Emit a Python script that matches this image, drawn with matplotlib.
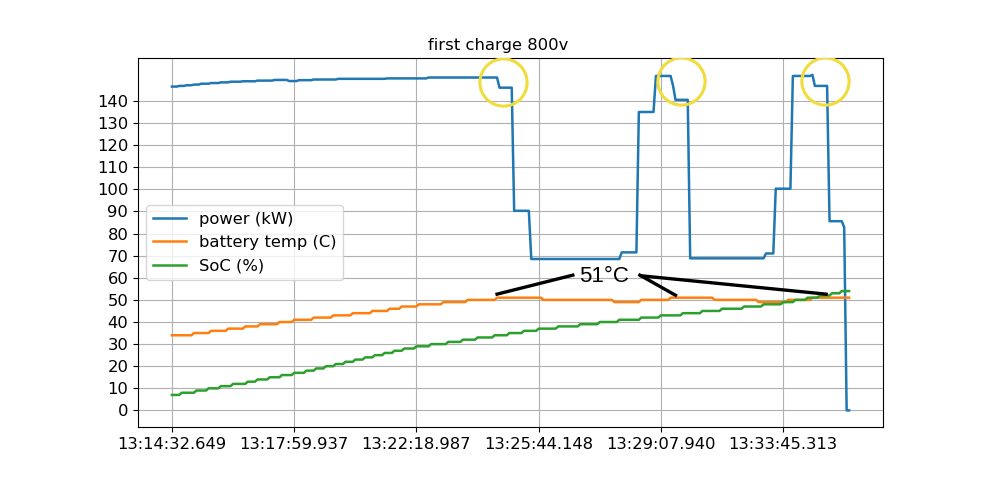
import numpy as np
import matplotlib
matplotlib.use('Agg')
import matplotlib.pyplot as plt

# valores (run-length: valor, numero de muestras)
power_vals = [146.5, 146.8, 147.1, 147.4, 147.8, 148.1, 148.4, 148.7, 148.9, 149.2,
              149.5, 149.0, 149.4, 149.7, 150.0, 150.2, 150.6, 146.0,
              90.3, 68.5, 71.5, 135.0, 151.3, 146.8, 140.5, 68.8, 71.0, 100.3,
              151.3, 151.8, 146.8, 85.6, 82.8, 0.0]
power_runs = [3, 3, 3, 3, 4, 4, 4, 5, 6, 7,
              6, 4, 6, 10, 20, 17, 29, 6,
              7, 37, 7, 7, 7, 1, 6, 31, 4, 7,
              8, 1, 6, 6, 1, 2]

temp_vals = [34, 35, 36, 37, 38, 39, 40, 41, 42, 43, 44, 45, 46, 47, 48, 49, 50,
             51, 50, 49, 50, 51, 50, 49, 50, 51]
temp_runs = [9, 7, 7, 7, 6, 8, 6, 8, 8, 8, 8, 7, 5, 7, 10, 10, 12,
             19, 29, 11, 12, 18, 18, 12, 10, 16]

soc_vals = [7, 8, 9, 10, 11, 12, 13, 14, 15, 16,
            17, 18, 19, 20, 21, 22, 23, 24, 25, 26, 27, 28,
            29, 30, 31, 32, 33, 34, 35, 36,
            37, 38, 39, 40, 41, 42,
            43, 44, 45, 46, 47, 48,
            49, 50, 51, 52, 53, 54]
soc_runs = [4, 6, 5, 5, 5, 6, 4, 5, 5, 5,
            5, 4, 4, 4, 4, 4, 4, 4, 4, 4, 4, 5,
            6, 7, 6, 6, 7, 6, 6, 6,
            8, 9, 8, 8, 9, 8,
            9, 8, 8, 9, 8, 8,
            5, 5, 5, 5, 4, 4]

tick_pos = [0, 50, 100, 150, 200, 250]
tick_labels = ['13:14:32.649', '13:17:59.937', '13:22:18.987',
               '13:25:44.148', '13:29:07.940', '13:33:45.313']

# anotaciones hechas a mano sobre la imagen (indice, valor)
circles_x = [135.3, 208.1, 267.0]
circles_y = [148.5, 148.8, 148.8]
label_pos = (176.6, 60.7)
lines_from = [(164.0, 61.2), (191.4, 61.2), (192.0, 60.9)]
lines_to = [(133.0, 52.6), (206.0, 52.1), (267.6, 52.6)]

power = np.repeat(power_vals, power_runs)
temp = np.repeat(temp_vals, temp_runs)
soc = np.repeat(soc_vals, soc_runs)
idx = np.arange(len(power))

plt.rcParams['font.size'] = 11.8
plt.rcParams['lines.linewidth'] = 1.8

fig = plt.figure(figsize=(9.96, 4.8), dpi=100)
ax = fig.add_subplot(111)
fig.subplots_adjust(left=0.1386, right=0.8865, top=0.879, bottom=0.110)

ax.plot(idx, power, label='power (kW)')
ax.plot(idx, temp, label='battery temp (C)')
ax.plot(idx, soc, label='SoC (%)')

ax.set_title('first charge 800v', fontsize=11.8, x=0.483)
ax.set_xticks(tick_pos)
ax.set_xticklabels(tick_labels)
ax.set_yticks(range(0, 150, 10))
ax.grid(True)
ax.legend(loc='center left')

# circulos amarillos y texto 51°C
ax.plot(circles_x, circles_y, 'o', markersize=34, markerfacecolor='none',
        markeredgecolor='#f0dc3c', markeredgewidth=2.2, zorder=5)
for (x0, y0), (x1, y1) in zip(lines_from, lines_to):
    ax.plot([x0, x1], [y0, y1], color='black', linewidth=2.4, zorder=5)
ax.text(label_pos[0], label_pos[1], '51°C', fontsize=16, family='Liberation Sans',
        ha='center', va='center', zorder=6)

plt.savefig('out.png', dpi=100)
